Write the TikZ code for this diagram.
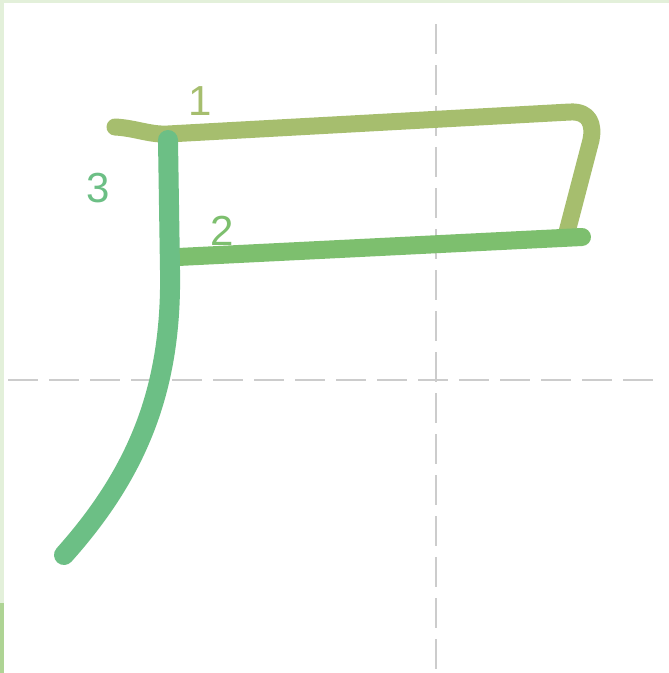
\documentclass[tikz,border=0pt]{standalone}
\usepackage{fontspec}
\setmainfont{Liberation Sans}
\definecolor{strokeA}{HTML}{A6BE6E}
\definecolor{strokeB}{HTML}{7DBF6E}
\definecolor{strokeC}{HTML}{6CBF85}
\definecolor{frameLight}{HTML}{E3F0DA}
\definecolor{frameDark}{HTML}{AED494}
\begin{document}
\begin{tikzpicture}[x=1pt, y=-1pt,
    guide/.style={draw=gray!40, line width=2pt, dash pattern=on 30pt off 11pt},
    brush/.style={line width=18pt, line cap=round, line join=round},
    num/.style={font=\fontsize{42}{42}\selectfont, inner sep=0pt}]

  % page and frame
  \useasboundingbox (0,0) rectangle (669,673);
  \fill[white] (0,0) rectangle (669,673);
  \fill[frameLight] (0,0) rectangle (669,3);
  \fill[frameLight] (0,0) rectangle (4,603);
  \fill[frameDark] (0,603) rectangle (4,673);

  % guide cross
  \draw[guide] (436,24) -- (436,673);
  \draw[guide] (8,380) -- (662,380);

  % strokes
  \draw[brush, strokeA, line width=17pt] (115,127) .. controls (135,128) and (150,135) .. (168,134)
        -- (570,112) .. controls (590,111) and (594,125) .. (591,140) -- (567,232);
  \draw[brush, strokeB] (178,257) -- (582,237);
  \draw[brush, strokeC, line width=20pt] (168,140) -- (170,270)
        .. controls (172,385) and (140,470) .. (64,555);

  % stroke order
  \node[num, text=strokeA] (n1) at (200,101) {1};
  \node[num, text=strokeB] (n2) at (222,231) {2};
  \node[num, text=strokeC] (n3) at (98,188) {3};
\end{tikzpicture}
\end{document}
